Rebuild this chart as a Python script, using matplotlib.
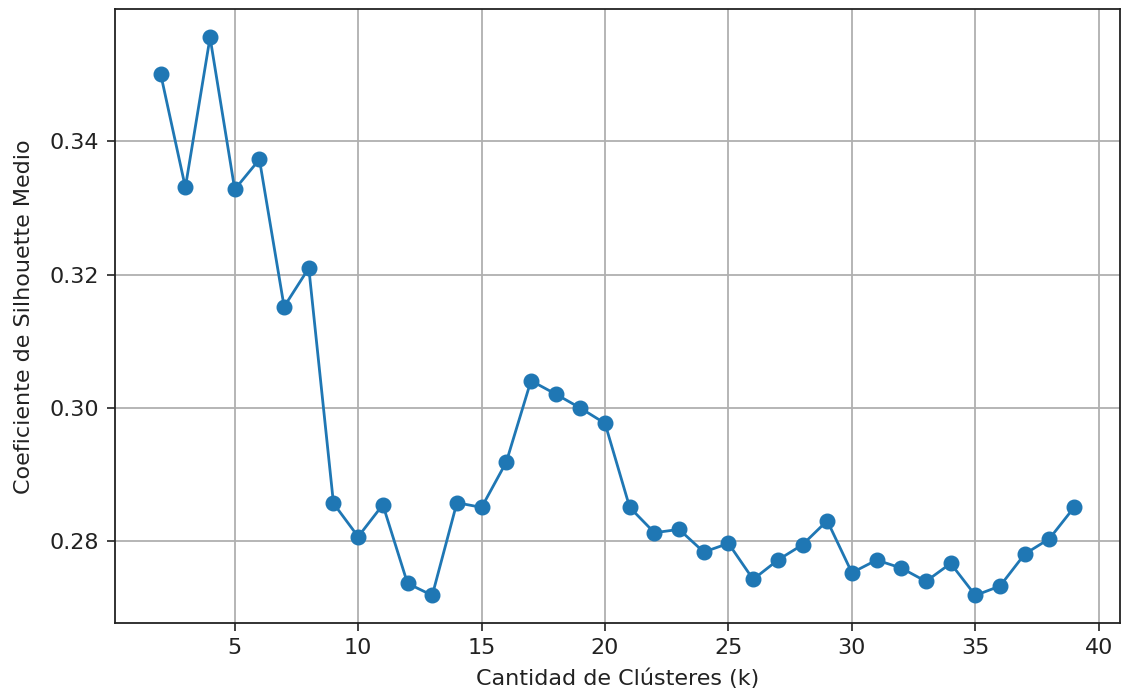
import matplotlib
matplotlib.use("Agg")
import matplotlib.pyplot as plt

# Average silhouette score for each number of clusters k
k_values = list(range(2, 40))
silhouette = [
    0.3501, 0.3331, 0.3556, 0.3328, 0.3373, 0.3152, 0.3210, 0.2857, 0.2807,
    0.2855, 0.2737, 0.2719, 0.2858, 0.2851, 0.2919, 0.3041, 0.3021, 0.3000,
    0.2977, 0.2851, 0.2813, 0.2818, 0.2784, 0.2797, 0.2743, 0.2772, 0.2795,
    0.2831, 0.2753, 0.2772, 0.2760, 0.2740, 0.2767, 0.2719, 0.2733, 0.2781,
    0.2804, 0.2851,
]
x_ticks = [5, 10, 15, 20, 25, 30, 35, 40]
y_ticks = [0.28, 0.30, 0.32, 0.34]

plt.rcParams["font.family"] = ["DejaVu Sans"]
plt.rcParams["font.size"] = 16

fig = plt.figure(figsize=(11.22, 6.93), dpi=100)
ax = fig.add_axes([0.1025, 0.1006, 0.8955, 0.8857])

ax.plot(k_values, silhouette, marker="o", color="#1f77b4",
        linewidth=2.0, markersize=10.5)

ax.set_xticks(x_ticks)
ax.set_yticks(y_ticks)
ax.set_yticklabels([f"{v:.2f}" for v in y_ticks])
ax.grid(True, color="#b0b0b0", linewidth=1.3)
ax.tick_params(length=5.5, width=1.2, labelsize=16, colors="#222222")
ax.tick_params(axis="x", pad=5)
ax.tick_params(axis="y", pad=6)
for spine in ax.spines.values():
    spine.set_linewidth(1.3)
    spine.set_color("#222222")

ax.set_xlabel("Cantidad de Clústeres (k)", fontsize=16, color="#222222", labelpad=8)
ax.set_ylabel("Coeficiente de Silhouette Medio", fontsize=16, color="#222222", labelpad=11)

fig.savefig("out.png", dpi=100)
